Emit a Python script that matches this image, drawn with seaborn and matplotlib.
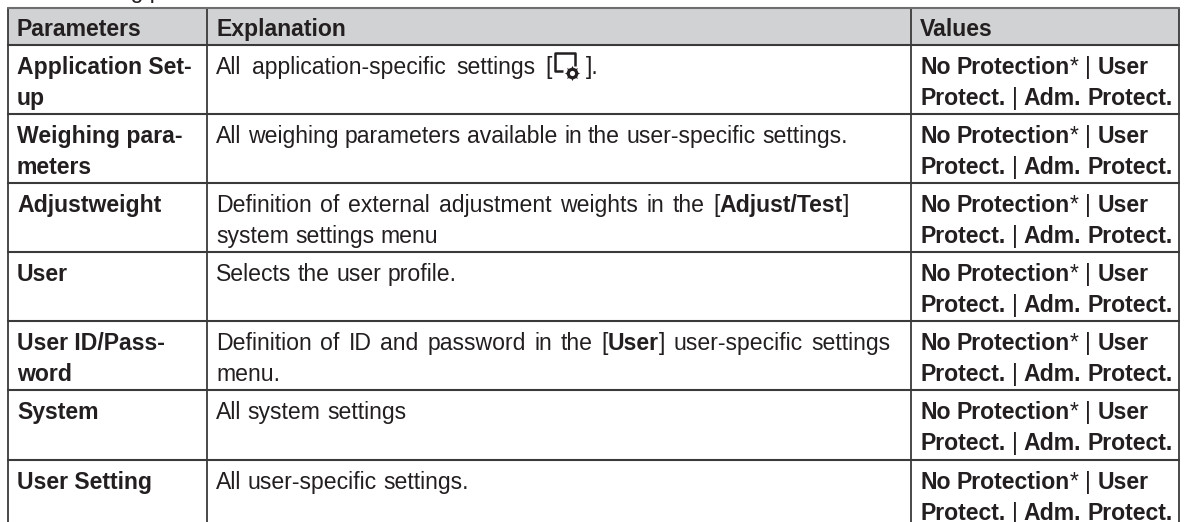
import matplotlib
matplotlib.use('Agg')
import matplotlib.pyplot as plt
import seaborn as sns
import pandas as pd

sns.set_theme(style='white')
plt.rcParams['font.family'] = ['Liberation Sans Narrow', 'Liberation Sans', 'DejaVu Sans']

W, H = 1184, 522

headers = ['Parameters', 'Explanation', 'Values']
parameters = [['Application Set-', 'up'], ['Weighing para-', 'meters'], ['Adjustweight'],
              ['User'], ['User ID/Pass-', 'word'], ['System'], ['User Setting']]
# explanation lines as (text, bold) runs
explanations = [
    [[('All application-specific settings [', False), ('ICON', False), ('].', False)]],
    [[('All weighing parameters available in the user-specific settings.', False)]],
    [[('Definition of external adjustment weights in the [', False), ('Adjust/Test', True), (']', False)],
     [('system settings menu', False)]],
    [[('Selects the user profile.', False)]],
    [[('Definition of ID and password in the [', False), ('User', True), ('] user-specific settings', False)],
     [('menu.', False)]],
    [[('All system settings', False)]],
    [[('All user-specific settings.', False)]],
]
values_line1 = [('No Protection', True), ('*', False), (' | ', False), ('User', True)]
values_line2 = [('Protect.', True), (' | ', False), ('Adm. Protect.', True)]

col_edges = [8, 207, 911, 1179]
header_top, header_bottom = 8, 45
row_lines = [45, 114, 183, 252, 321, 390, 460, 530]
text_col = '#231f20'
line_col = '#3a3a3a'
fs = 16.6
# the reference font sets wider word gaps on a few lines (row, line): extra px per space
extra_gap = {(0, 0): 4.0, (2, 0): 2.2, (4, 0): 2.3}

fig = plt.figure(figsize=(W / 100, H / 100), dpi=100)

# header band
hax = fig.add_axes([col_edges[0] / W, 1 - header_bottom / H,
                    (col_edges[-1] - col_edges[0]) / W, (header_bottom - header_top) / H])
sns.heatmap(pd.DataFrame([[0]]), ax=hax, cmap=['#d1d2d4'], cbar=False, xticklabels=False, yticklabels=False)

ax = fig.add_axes([0, 0, 1, 1], facecolor='none')
ax.set_xlim(0, W)
ax.set_ylim(H, 0)
ax.axis('off')

# grid lines
for x in col_edges:
    ax.plot([x, x], [header_top, H + 5], color=line_col, lw=1.3)
ax.plot([col_edges[0], col_edges[-1]], [header_top, header_top], color='#6d6e70', lw=1.5)
for y in row_lines:
    ax.plot([col_edges[0], col_edges[-1]], [y, y], color=line_col, lw=1.5)

fig.canvas.draw()
rend = fig.canvas.get_renderer()


def draw_icon(x, y):
    ax.plot([x + 11, x + 3, x + 3, x + 23, x + 23], [y - 3, y - 3, y - 21, y - 21, y - 8],
            color=text_col, lw=1.8, solid_capstyle='butt')
    ax.scatter([x + 20], [y - 1], s=125, marker=(8, 1, 0), color=text_col, lw=0, zorder=3)
    ax.scatter([x + 20], [y - 1], s=70, marker='o', color=text_col, lw=0, zorder=3)
    ax.scatter([x + 20], [y - 1], s=14, marker='o', color='white', lw=0, zorder=4)
    return x + 34


def text_width(txt, bold):
    probe = ax.text(0, 0, txt.replace(' ', '\u00a0'), fontsize=fs, fontweight='bold' if bold else 'normal')
    w = probe.get_window_extent(rend).width
    probe.remove()
    return w


def draw_runs(x, y, runs, gap=0.0):
    for txt, bold in runs:
        if txt == 'ICON':
            x = draw_icon(x, y)
            continue
        for k, word in enumerate(txt.split(' ')):
            if k > 0:
                x += text_width(' ', bold) + gap
            if word:
                ax.text(x, y, word, fontsize=fs, fontweight='bold' if bold else 'normal',
                        color=text_col, va='baseline', ha='left')
                x += text_width(word, bold)
    return x


ax.text(8, -2, 'The following parameters', fontsize=fs, color=text_col, va='baseline')

for x, h in zip(col_edges, headers):
    ax.text(x + 9, 36, h, fontsize=fs, fontweight='bold', color=text_col, va='baseline')

for i in range(7):
    y0 = row_lines[i] + 29
    for j, line in enumerate(parameters[i]):
        ax.text(col_edges[0] + 9, y0 + j * 31, line, fontsize=fs, fontweight='bold', color=text_col, va='baseline')
    for j, runs in enumerate(explanations[i]):
        draw_runs(col_edges[1] + 9, y0 + j * 31, runs, extra_gap.get((i, j), 0.0))
    draw_runs(col_edges[2] + 9, y0, values_line1)
    draw_runs(col_edges[2] + 9, y0 + 31, values_line2)

fig.savefig('out.png', dpi=100)
